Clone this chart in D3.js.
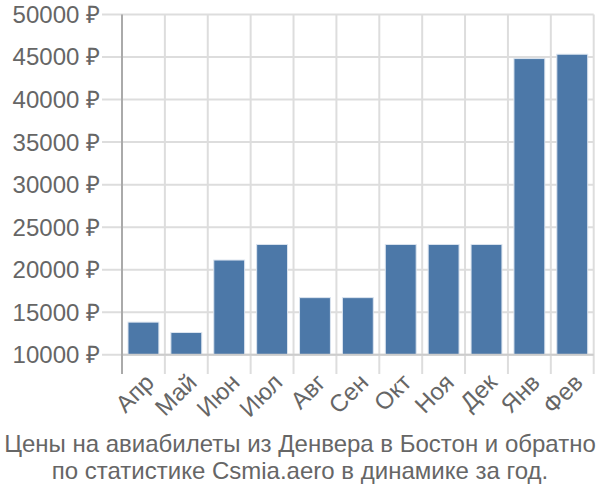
<!DOCTYPE html>
<html><head><meta charset="utf-8">
<script src="https://cdn.jsdelivr.net/npm/d3@7"></script>
<style>body{margin:0;background:#fff}svg{display:block}</style>
</head><body>
<svg id="c" width="600" height="500"></svg>
<script>
const months = ["Апр","Май","Июн","Июл","Авг","Сен","Окт","Ноя","Дек","Янв","Фев"];
const prices = [13840, 12620, 21140, 22970, 16720, 16720, 22970, 22970, 22970, 44820, 45330];
const yTicks = [10000,15000,20000,25000,30000,35000,40000,45000,50000];
const titleLines = ["Цены на авиабилеты из Денвера в Бостон и обратно","по статистике Csmia.aero в динамике за год."];

(function(){
const svg = d3.select("#c");
const font = "'Liberation Sans', Arial, sans-serif";
const pLeft = 122, pRight = 593.7, pTop = 14.5, pBase = 354.8, pAxisBottom = 374;
const x = d3.scaleBand().domain(months).range([pLeft, pRight]).paddingInner(0.28).paddingOuter(0.14);
const y = d3.scaleLinear().domain([10000, 50000]).range([pBase, pTop]);

svg.append("g").selectAll("line").data(yTicks).join("line")
  .attr("x1", 102).attr("x2", pRight).attr("y1", d=>y(d)).attr("y2", d=>y(d))
  .attr("stroke", "#dddddd").attr("stroke-width", 2);
const bounds = months.map(m => x(m) - x.step()*x.paddingInner()/2).concat([pRight]);
svg.append("g").selectAll("line").data(bounds.slice(1)).join("line")
  .attr("x1", d=>d).attr("x2", d=>d).attr("y1", pTop).attr("y2", pAxisBottom)
  .attr("stroke", "#dddddd").attr("stroke-width", 2);

svg.append("g").selectAll("rect").data(months).join("rect")
  .attr("x", (d)=>x(d)).attr("width", x.bandwidth())
  .attr("y", (d,i)=>y(prices[i])).attr("height", (d,i)=>pBase - y(prices[i]))
  .attr("fill", "#4c78a8").attr("stroke", "#dbe4ef").attr("stroke-width", 1);

svg.append("line").attr("x1", pLeft).attr("x2", pRight).attr("y1", pBase).attr("y2", pBase)
  .attr("stroke", "#cccccc").attr("stroke-width", 2);
svg.append("line").attr("x1", pLeft).attr("x2", pLeft).attr("y1", pTop).attr("y2", pAxisBottom)
  .attr("stroke", "#aaaaaa").attr("stroke-width", 2);

svg.append("g").selectAll("text").data(yTicks).join("text")
  .attr("x", 100).attr("y", d=>y(d)).attr("dy", "0.35em").attr("text-anchor", "end")
  .attr("font-family", font).attr("font-size", 24).attr("fill", "#666")
  .text(d => d + " ₽");

svg.append("g").selectAll("text").data(months).join("text")
  .attr("transform", d => `translate(${x(d)+x.bandwidth()/2+6},${pAxisBottom+4}) rotate(-45)`)
  .attr("text-anchor", "end").attr("dy", "0.35em")
  .attr("font-family", font).attr("font-size", 24).attr("fill", "#666")
  .text(d => d);

svg.append("g").selectAll("text").data(titleLines).join("text")
  .attr("x", 300).attr("y", (d,i)=>452 + i*27).attr("text-anchor", "middle")
  .attr("font-family", font).attr("font-size", 24).attr("fill", "#666")
  .text(d => d);
})();
</script>
</body></html>
